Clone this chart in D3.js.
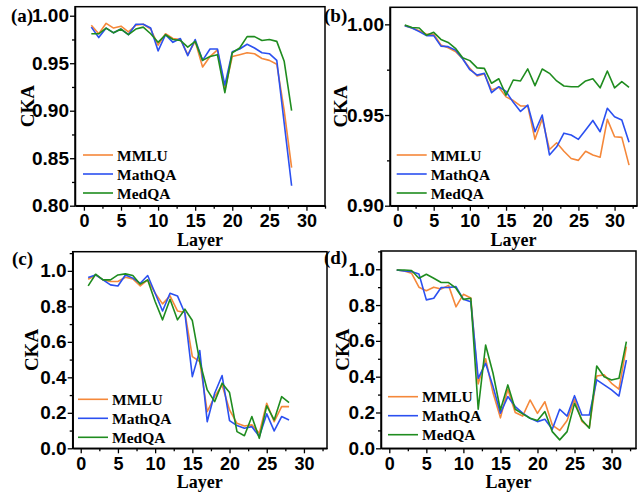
<!DOCTYPE html>
<html>
<head>
<meta charset="utf-8">
<script src="https://cdn.jsdelivr.net/npm/d3@7"></script>
<style>
  body { margin: 0; background: #fff; }
  svg { display: block; font-family: "Liberation Serif", "Times New Roman", serif; font-weight: bold; }
</style>
</head>
<body>
<div id="chart"></div>
<script>
// layer indices
const layers28 = [1,2,3,4,5,6,7,8,9,10,11,12,13,14,15,16,17,18,19,20,21,22,23,24,25,26,27,28];
const layers32 = [1,2,3,4,5,6,7,8,9,10,11,12,13,14,15,16,17,18,19,20,21,22,23,24,25,26,27,28,29,30,31,32];

// (a)
const mmluA   = [0.990,0.981,0.992,0.987,0.989,0.983,0.990,0.991,0.986,0.969,0.981,0.976,0.975,0.959,0.973,0.946,0.957,0.964,0.922,0.957,0.959,0.961,0.960,0.955,0.953,0.949,0.900,0.840];
const mathqaA = [0.988,0.977,0.987,0.982,0.986,0.980,0.991,0.991,0.987,0.963,0.980,0.972,0.976,0.958,0.975,0.953,0.965,0.965,0.927,0.962,0.965,0.970,0.966,0.961,0.960,0.953,0.887,0.821];
const medqaA  = [0.981,0.981,0.987,0.982,0.986,0.980,0.986,0.988,0.981,0.972,0.980,0.975,0.974,0.967,0.973,0.953,0.957,0.959,0.919,0.961,0.966,0.978,0.978,0.974,0.975,0.973,0.952,0.900];

// (b)
const mmluB   = [0.9993,0.998,0.9965,0.9945,0.9945,0.9886,0.9871,0.985,0.981,0.9757,0.9715,0.9726,0.9638,0.9653,0.960,0.958,0.955,0.955,0.9366,0.948,0.931,0.9347,0.930,0.926,0.925,0.930,0.928,0.9267,0.9476,0.938,0.9377,0.9224];
const mathqaB = [0.9993,0.998,0.996,0.9938,0.9938,0.988,0.9877,0.9858,0.981,0.975,0.972,0.973,0.9623,0.9656,0.963,0.957,0.952,0.9555,0.9408,0.950,0.928,0.9325,0.940,0.939,0.9366,0.9417,0.947,0.9408,0.9537,0.949,0.9472,0.935];
const medqaB  = [0.9996,0.9983,0.998,0.994,0.9956,0.9917,0.990,0.9868,0.9816,0.980,0.976,0.9757,0.9675,0.970,0.961,0.9693,0.9688,0.9754,0.9662,0.9754,0.973,0.9688,0.966,0.9656,0.9656,0.9688,0.970,0.965,0.9743,0.965,0.9684,0.9653];

// (c)
const mmluC   = [0.953,0.977,0.949,0.940,0.940,0.964,0.955,0.915,0.949,0.874,0.814,0.859,0.774,0.765,0.517,0.489,0.207,0.291,0.357,0.216,0.141,0.126,0.132,0.085,0.254,0.150,0.235,0.235];
const mathqaC = [0.962,0.977,0.949,0.921,0.915,0.977,0.959,0.930,0.974,0.874,0.774,0.874,0.859,0.761,0.404,0.551,0.150,0.310,0.410,0.156,0.128,0.113,0.122,0.066,0.194,0.098,0.179,0.160];
const medqaC  = [0.915,0.981,0.949,0.949,0.977,0.983,0.974,0.925,0.949,0.827,0.724,0.840,0.724,0.784,0.720,0.489,0.329,0.263,0.367,0.314,0.094,0.071,0.179,0.056,0.239,0.160,0.291,0.258];

// (d)
const mmluD   = [0.996,0.990,0.978,0.900,0.880,0.900,0.890,0.910,0.790,0.860,0.840,0.360,0.500,0.310,0.170,0.330,0.200,0.180,0.270,0.195,0.260,0.130,0.100,0.155,0.274,0.150,0.117,0.404,0.410,0.363,0.330,0.568];
const mathqaD = [0.996,0.990,0.987,0.974,0.829,0.838,0.898,0.898,0.903,0.832,0.819,0.391,0.475,0.345,0.196,0.289,0.233,0.196,0.168,0.149,0.162,0.106,0.218,0.180,0.294,0.186,0.186,0.382,0.354,0.326,0.292,0.493];
const medqaD  = [0.996,0.996,0.993,0.950,0.972,0.950,0.926,0.926,0.894,0.832,0.838,0.218,0.577,0.419,0.214,0.354,0.218,0.192,0.168,0.155,0.205,0.093,0.047,0.093,0.251,0.158,0.112,0.460,0.400,0.382,0.391,0.596];

// tick labels
const xTicks = [0,5,10,15,20,25,30];
const yTicksA = [0.80,0.85,0.90,0.95,1.00];
const yTicksB = [0.90,0.95,1.00];
const yTicksCD = [0.0,0.2,0.4,0.6,0.8,1.0];

const seriesNames = ["MMLU", "MathQA", "MedQA"];
const seriesColors = ["#f5883a", "#2b50f0", "#1f8c1f"];

// panel boxes (pixels) and label placement
const panels = [
  { tag: "(a)", box: [75, 325, 6.7, 205.7], xDom: [-1.2, 32.5], yDom: [0.80, 1.0095], yTicks: yTicksA, yStep: 0.025, fmt: ".2f",
    layers: layers28, series: [mmluA, mathqaA, medqaA], tagPos: [11, 22], ckaX: 27, leg: [83, 155] },
  { tag: "(b)", box: [390, 637, 7.3, 205.7], xDom: [-1.04, 33.1], yDom: [0.90, 1.0094], yTicks: yTicksB, yStep: 0.025, fmt: ".2f",
    layers: layers32, series: [mmluB, mathqaB, medqaB], tagPos: [324, 22], ckaX: 340, leg: [396.7, 155] },
  { tag: "(c)", box: [72.7, 327, 251.7, 448.3], xDom: [-1.08, 33.1], yDom: [0, 1.108], yTicks: yTicksCD, yStep: 0.1, fmt: ".1f",
    layers: layers28, series: [mmluC, mathqaC, medqaC], tagPos: [12, 265], ckaX: 31, leg: [78, 399.3] },
  { tag: "(d)", box: [381, 636, 251, 448.3], xDom: [-1.12, 33.3], yDom: [0, 1.102], yTicks: yTicksCD, yStep: 0.1, fmt: ".1f",
    layers: layers32, series: [mmluD, mathqaD, medqaD], tagPos: [324, 264], ckaX: 342, leg: [388, 396.7] }
];

const svg = d3.select("#chart").append("svg")
  .attr("width", 642)
  .attr("height", 493);

svg.append("rect").attr("width", 642).attr("height", 493).attr("fill", "#fff");

panels.forEach(p => {
  const [left, right, top, bottom] = p.box;
  const x = d3.scaleLinear().domain(p.xDom).range([left, right]);
  const y = d3.scaleLinear().domain(p.yDom).range([bottom, top]);

  // minor ticks
  const xMinor = xTicks.map(d => d + 2.5).filter(d => d <= p.xDom[1]);
  const yMinor = p.yTicks.map(d => d + p.yStep).filter(d => d <= p.yDom[1]);

  svg.append("g")
    .attr("transform", "translate(0," + bottom + ")")
    .call(d3.axisBottom(x).tickValues(xMinor).tickSize(3).tickFormat("").tickSizeOuter(0))
    .call(g => g.select(".domain").remove());

  svg.append("g")
    .attr("transform", "translate(" + left + ",0)")
    .call(d3.axisLeft(y).tickValues(yMinor).tickSize(3).tickFormat("").tickSizeOuter(0))
    .call(g => g.select(".domain").remove());

  // major axes
  const gx = svg.append("g")
    .attr("transform", "translate(0," + bottom + ")")
    .call(d3.axisBottom(x).tickValues(xTicks).tickSize(5).tickPadding(4).tickSizeOuter(0));
  gx.selectAll("text").style("font-size", "18px").style("fill", "#000");

  const gy = svg.append("g")
    .attr("transform", "translate(" + left + ",0)")
    .call(d3.axisLeft(y).tickValues(p.yTicks).tickFormat(d3.format(p.fmt)).tickSize(5).tickPadding(1).tickSizeOuter(0));
  gy.selectAll("text").style("font-size", "19px").style("fill", "#000");

  svg.selectAll(".tick line").style("stroke", "#000").style("stroke-width", 1.3);
  svg.selectAll(".domain").style("stroke", "#000").style("stroke-width", 1.5);

  // frame
  svg.append("rect")
    .attr("x", left).attr("y", top)
    .attr("width", right - left).attr("height", bottom - top)
    .attr("fill", "none")
    .attr("stroke", "#000")
    .attr("stroke-width", 1.5);

  // lines
  const line = d3.line()
    .x((d, i) => x(p.layers[i]))
    .y(d => y(d));

  p.series.forEach((s, k) => {
    svg.append("path")
      .datum(s)
      .attr("fill", "none")
      .attr("stroke", seriesColors[k])
      .attr("stroke-width", 1.6)
      .attr("stroke-linejoin", "round")
      .attr("d", line);
  });

  // legend
  seriesNames.forEach((name, k) => {
    const ly = p.leg[1] + k * 19;
    svg.append("line")
      .attr("x1", p.leg[0]).attr("x2", p.leg[0] + 30)
      .attr("y1", ly).attr("y2", ly)
      .attr("stroke", seriesColors[k])
      .attr("stroke-width", 1.6);
    svg.append("text")
      .attr("x", p.leg[0] + 34)
      .attr("y", ly + 5.5)
      .style("font-size", "15.5px")
      .text(name);
  });

  // axis titles
  svg.append("text")
    .attr("x", (left + right) / 2)
    .attr("y", bottom + 40)
    .attr("text-anchor", "middle")
    .style("font-size", "18px")
    .text("Layer");

  svg.append("text")
    .attr("transform", "translate(" + (p.ckaX + 7) + "," + (top + bottom) / 2 + ") rotate(-90)")
    .attr("text-anchor", "middle")
    .style("font-size", "19px")
    .text("CKA");

  svg.append("text")
    .attr("x", p.tagPos[0])
    .attr("y", p.tagPos[1])
    .style("font-size", "19px")
    .text(p.tag);
});
</script>
</body>
</html>
